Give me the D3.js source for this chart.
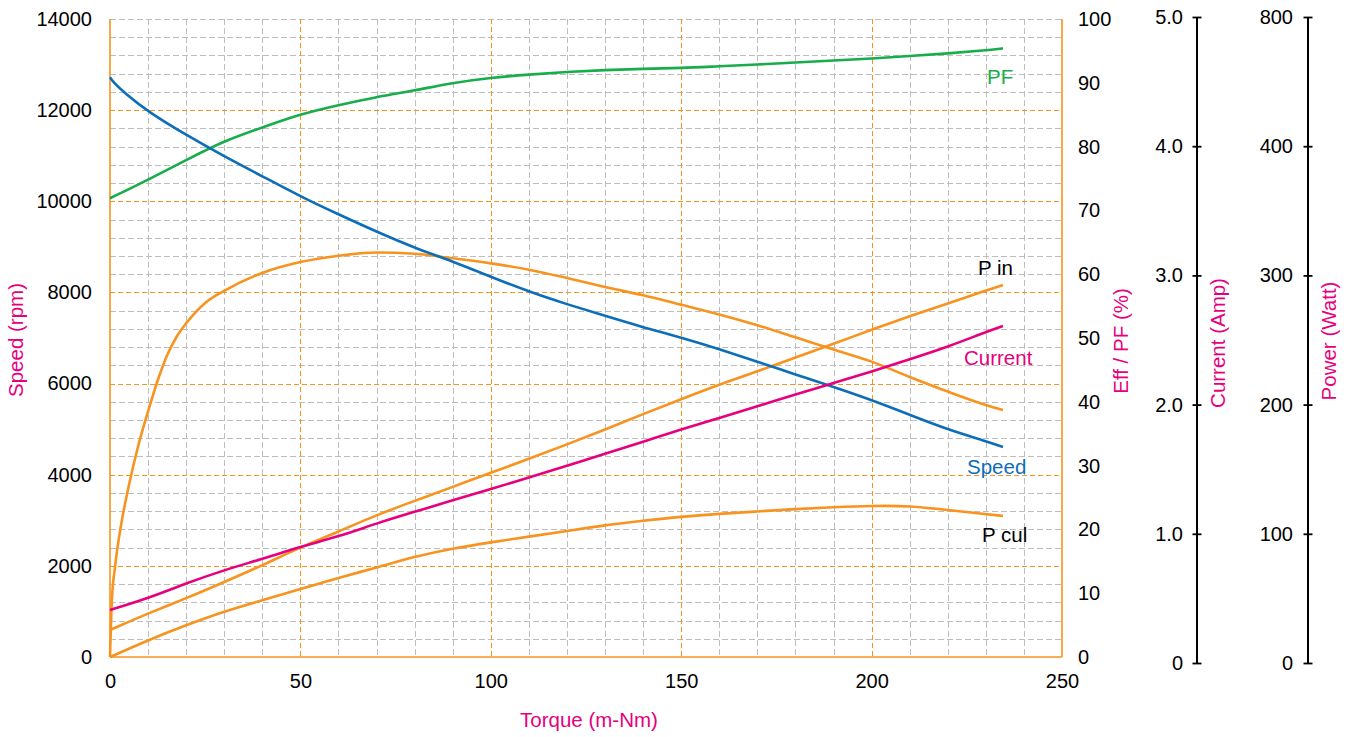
<!DOCTYPE html>
<html>
<head>
<meta charset="utf-8">
<script src="https://cdn.jsdelivr.net/npm/d3@7"></script>
<style>
  html, body { margin: 0; padding: 0; background: #ffffff; }
  svg { display: block; font-family: "Liberation Sans", Arial, Helvetica, sans-serif; }
</style>
</head>
<body>
<svg id="chart" width="1356" height="737"></svg>
<script>
// ---------- DATA ----------
const torque = [0, 10, 20, 30, 40, 50, 60, 70, 80, 90, 100, 110, 120, 130, 140, 150, 160, 170, 180, 190, 200, 210, 220, 230, 234.5];
const powerFactor = [71.9, 74.8, 77.9, 80.9, 83.0, 85.1, 86.5, 87.8, 88.8, 90.0, 90.8, 91.3, 91.7, 92.0, 92.2, 92.3, 92.6, 92.85, 93.2, 93.5, 93.8, 94.2, 94.6, 95.1, 95.4];
const currentAmp = [0.41, 0.50, 0.617, 0.72, 0.805, 0.90, 0.978, 1.081, 1.17, 1.26, 1.347, 1.434, 1.527, 1.62, 1.713, 1.808, 1.897, 1.987, 2.08, 2.167, 2.255, 2.351, 2.447, 2.562, 2.608];
const powerIn = [25.5, 38.4, 50.0, 62.7, 75.5, 89.7, 101.6, 114.6, 125.5, 136.3, 147.3, 157.9, 169.2, 180.7, 192.7, 204.2, 215.6, 225.7, 236.4, 247.0, 258.0, 268.4, 278.3, 288.2, 292.6];
const powerCul = [4.6, 17.7, 29.3, 40.0, 48.6, 57.2, 66.0, 73.8, 82.4, 88.7, 93.4, 97.8, 102.2, 106.7, 110.1, 113.2, 115.5, 117.3, 119.2, 120.6, 121.7, 121.7, 118.4, 115.3, 113.8];

const speedTorque = [0, 1, 4, 10, 20, 30, 40, 50, 60, 70, 80, 90, 100, 110, 120, 130, 140, 150, 160, 170, 180, 190, 200, 210, 220, 230, 234.5];
const speedRpm = [12720, 12600, 12366, 11964, 11455, 10985, 10550, 10105, 9713, 9332, 8976, 8680, 8344, 8015, 7740, 7485, 7234, 7010, 6755, 6480, 6200, 5925, 5639, 5315, 4990, 4735, 4610];

const effTorque = [0, 0.5, 1.3, 3, 5, 7.5, 10, 12.5, 15, 17.5, 20, 25, 30, 40, 50, 60, 70, 80, 90, 100, 110, 120, 130, 140, 150, 160, 170, 180, 190, 200, 210, 220, 230, 234.5];
const efficiency = [0, 9, 14, 21, 27, 33.3, 38.5, 43.3, 47.3, 50.2, 52.3, 55.5, 57.4, 60.2, 61.9, 62.9, 63.4, 63.2, 62.5, 61.7, 60.7, 59.4, 58.0, 56.7, 55.2, 53.7, 52.0, 50.1, 48.2, 46.3, 43.9, 41.6, 39.5, 38.7];

const torqueTicks = [0, 50, 100, 150, 200, 250];
const speedTicks = [0, 2000, 4000, 6000, 8000, 10000, 12000, 14000];
const effTicks = [0, 10, 20, 30, 40, 50, 60, 70, 80, 90, 100];
const currentTicks = [0, 1, 2, 3, 4, 5];
const currentTickLabels = ["0", "1.0", "2.0", "3.0", "4.0", "5.0"];
const powerTicks = [0, 100, 200, 300, 400, 500];
const powerTickLabels = ["0", "100", "200", "300", "400", "800"];

// ---------- STYLE ----------
const ORANGE = "#F7931E";
const MAGENTA = "#E6007E";
const BLUE = "#0C6EBA";
const GREEN = "#17AD4B";
const GRID = "#BDBDBD";
const FS = 20;

const svg = d3.select("#chart");
const L = 110, R = 1062, T = 19, B = 657;

const x = d3.scaleLinear().domain([0, 250]).range([L, R]);
const yRpm = d3.scaleLinear().domain([0, 14000]).range([B, T]);
const yEff = d3.scaleLinear().domain([0, 100]).range([B, T]);
const yCur = d3.scaleLinear().domain([0, 5]).range([663, 17]);
const yPow = d3.scaleLinear().domain([0, 500]).range([663, 17]);
const crisp = v => Math.round(v) + 0.5;

// ---------- GRID ----------
const grid = svg.append("g");
const minorX = d3.range(10, 250, 10).filter(v => v % 50 !== 0);
const minorY = d3.range(400, 14001, 400).filter(v => v % 2000 !== 0 || v === 14000);
grid.selectAll(".gx").data(minorX).join("line")
  .attr("x1", d => crisp(x(d))).attr("x2", d => crisp(x(d))).attr("y1", T).attr("y2", B)
  .attr("stroke", GRID).attr("stroke-width", 1).attr("stroke-dasharray", "6,3");
grid.selectAll(".gy").data(minorY).join("line")
  .attr("x1", L).attr("x2", R).attr("y1", d => crisp(yRpm(d))).attr("y2", d => crisp(yRpm(d)))
  .attr("stroke", GRID).attr("stroke-width", 1).attr("stroke-dasharray", "6,3");
grid.selectAll(".ox").data([50, 100, 150, 200]).join("line")
  .attr("x1", d => crisp(x(d))).attr("x2", d => crisp(x(d))).attr("y1", T).attr("y2", B)
  .attr("stroke", ORANGE).attr("stroke-width", 1).attr("stroke-dasharray", "5,3");
grid.selectAll(".oy").data([2000, 4000, 6000, 8000, 10000, 12000]).join("line")
  .attr("x1", L).attr("x2", R).attr("y1", d => crisp(yRpm(d))).attr("y2", d => crisp(yRpm(d)))
  .attr("stroke", ORANGE).attr("stroke-width", 1).attr("stroke-dasharray", "5,3");

// borders
[[L, T, L, B], [L, B, R, B], [R, T, R, B]].forEach(c => {
  svg.append("line").attr("x1", c[0]).attr("y1", c[1]).attr("x2", c[2]).attr("y2", c[3])
    .attr("stroke", ORANGE).attr("stroke-width", 1.6);
});

// ---------- AXES ----------
function styleText(g) {
  g.selectAll("text").attr("font-size", FS).attr("fill", "#000")
    .attr("font-family", "Liberation Sans, Arial, sans-serif");
}
const xAxis = svg.append("g").attr("transform", `translate(0,${B})`)
  .call(d3.axisBottom(x).tickValues(torqueTicks).tickSize(0).tickPadding(17).tickFormat(d3.format("d")));
xAxis.select(".domain").remove(); styleText(xAxis);

const yLeft = svg.append("g").attr("transform", `translate(${L},0)`)
  .call(d3.axisLeft(yRpm).tickValues(speedTicks).tickSize(0).tickPadding(18).tickFormat(d3.format("d")));
yLeft.select(".domain").remove(); styleText(yLeft);

const yRight = svg.append("g").attr("transform", `translate(${R},0)`)
  .call(d3.axisRight(yEff).tickValues(effTicks).tickSize(0).tickPadding(16).tickFormat(d3.format("d")));
yRight.select(".domain").remove(); styleText(yRight);

function crossAxis(scale, ticks, labels, xpos, pad) {
  const g = svg.append("g").attr("transform", `translate(${xpos},0)`)
    .call(d3.axisLeft(scale).tickValues(ticks).tickSize(0).tickPadding(pad)
      .tickFormat((d, i) => labels[i]));
  g.select(".domain").remove();
  const r = scale.range();
  g.append("line").attr("x1", 0).attr("x2", 0).attr("y1", r[0]).attr("y2", r[1])
    .attr("stroke", "#000").attr("stroke-width", 2);
  g.selectAll(".tick").append("line").attr("x1", -4.5).attr("x2", 4.5)
    .attr("stroke", "#000").attr("stroke-width", 1.8);
  styleText(g);
  return g;
}
crossAxis(yCur, currentTicks, currentTickLabels, 1197, 14);
crossAxis(yPow, powerTicks, powerTickLabels, 1308, 15);

// axis titles
const TFS = 20.5;
function vTitle(txt, cx, cy) {
  svg.append("text").attr("transform", `translate(${cx},${cy}) rotate(-90)`)
    .attr("text-anchor", "middle").attr("dy", "0.35em")
    .attr("font-size", TFS).attr("fill", MAGENTA).text(txt);
}
vTitle("Speed (rpm)", 16, 340);
vTitle("Eff / PF (%)", 1121, 341);
vTitle("Current (Amp)", 1218, 343);
vTitle("Power (Watt)", 1329, 341);
svg.append("text").attr("x", 589).attr("y", 727).attr("text-anchor", "middle")
  .attr("font-size", TFS).attr("fill", MAGENTA).text("Torque (m-Nm)");

// ---------- SERIES ----------
function drawSeries(xs, ys, yScale, color, curve) {
  const pts = xs.map((t, i) => [t, ys[i]]);
  svg.append("path").datum(pts)
    .attr("fill", "none").attr("stroke", color).attr("stroke-width", 2.6)
    .attr("stroke-linejoin", "round").attr("stroke-linecap", "butt")
    .attr("d", d3.line().x(d => x(d[0])).y(d => yScale(d[1])).curve(curve));
}
drawSeries(torque, powerCul, yPow, ORANGE, d3.curveBasis);
drawSeries(torque, powerIn, yPow, ORANGE, d3.curveBasis);
drawSeries(effTorque, efficiency, yEff, ORANGE, d3.curveMonotoneX);
drawSeries(torque, powerFactor, yEff, GREEN, d3.curveBasis);
drawSeries(speedTorque, speedRpm, yRpm, BLUE, d3.curveBasis);
drawSeries(torque, currentAmp, yCur, MAGENTA, d3.curveBasis);

// series labels
const seriesLabels = [
  { text: "PF", x: 987, y: 84, color: GREEN },
  { text: "P in", x: 978, y: 275, color: "#000" },
  { text: "Current", x: 964, y: 365, color: MAGENTA },
  { text: "Speed", x: 967, y: 474, color: BLUE },
  { text: "P cul", x: 982, y: 542, color: "#000" }
];
svg.selectAll(".slabel").data(seriesLabels).join("text")
  .attr("x", d => d.x).attr("y", d => d.y).attr("font-size", TFS)
  .attr("fill", d => d.color).text(d => d.text);
</script>
</body>
</html>
